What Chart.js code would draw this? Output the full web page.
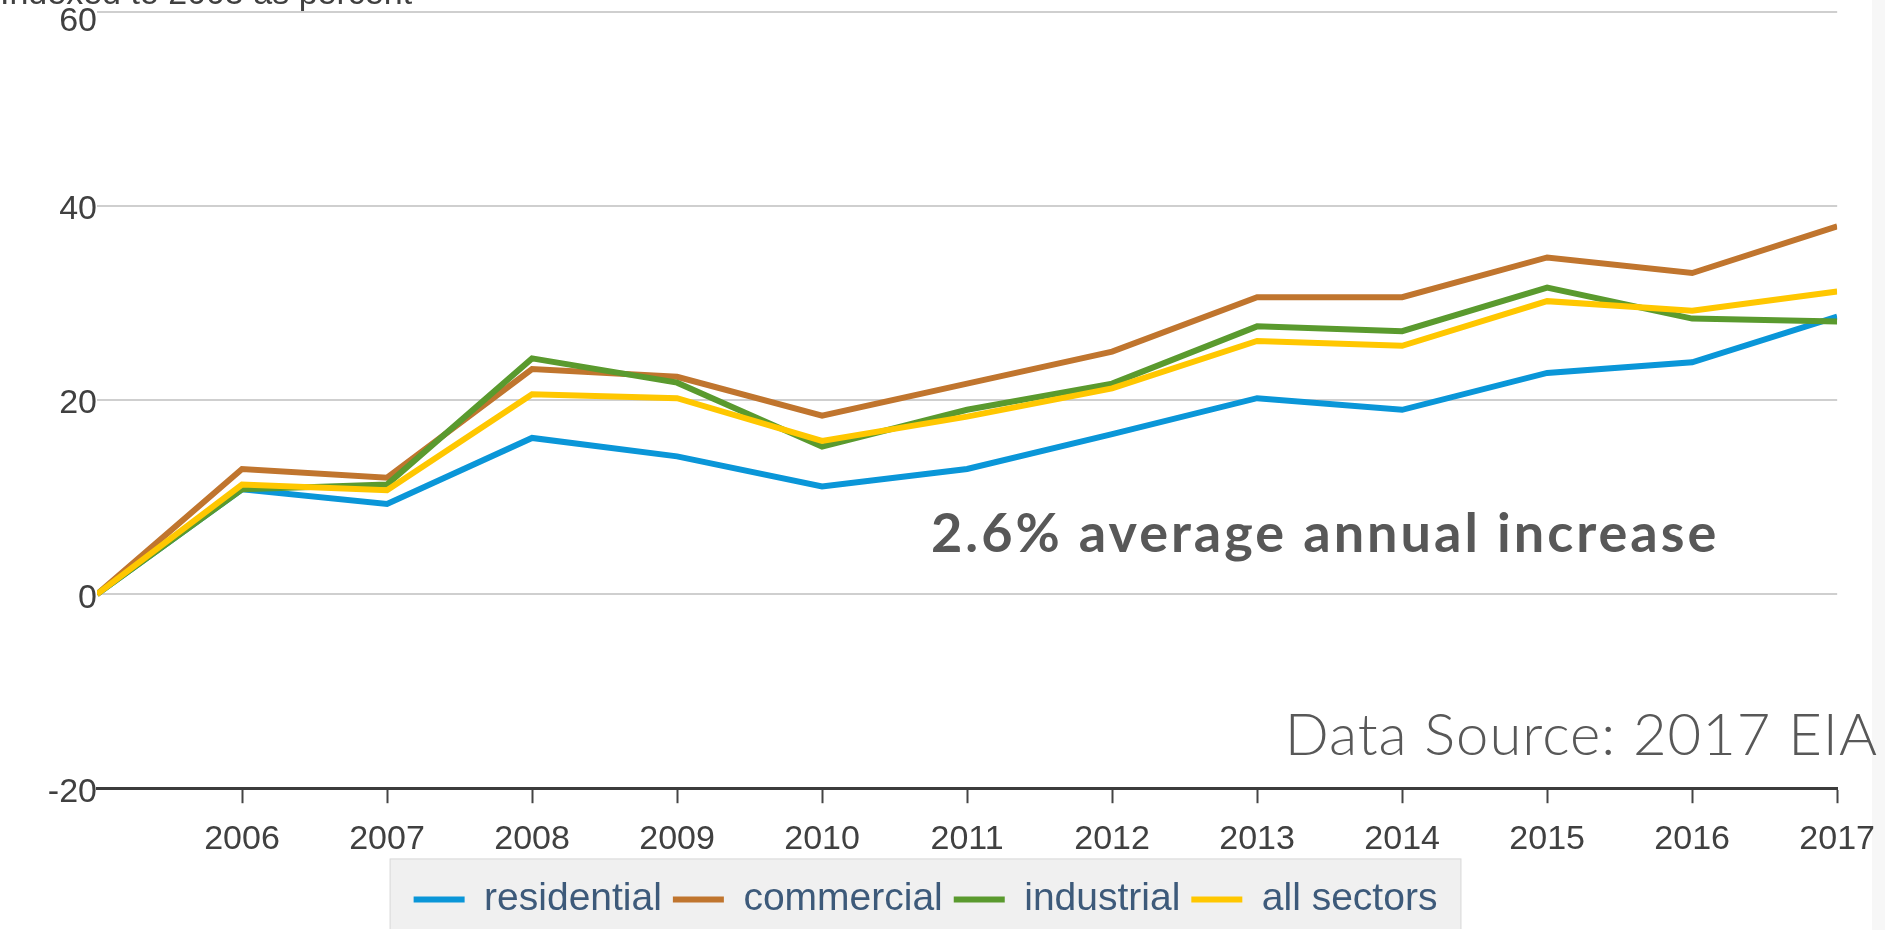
<!DOCTYPE html>
<html>
<head>
<meta charset="utf-8">
<title>Indexed to 2005 as percent</title>
<script src="https://cdn.jsdelivr.net/npm/chart.js@4.4.1/dist/chart.umd.min.js"></script>
<style>
  html, body { margin: 0; padding: 0; background: #fff; width: 1885px; height: 930px; overflow: hidden; }
  #strip { position: absolute; left: 1872px; top: 0; width: 13px; height: 930px; background: #f7f7f7; }
  #wrap { position: absolute; left: 0; top: -22px; width: 1891px; height: 951px; }
  .note { position: absolute; color: #585858; white-space: nowrap; font-family: Lato, "Open Sans", sans-serif; line-height: 1; }
  #avg { left: 931px; top: 505px; font-size: 54px; font-weight: 700; letter-spacing: 3px; }
  #src { right: 7px; top: 704px; font-size: 58px; font-weight: 300; letter-spacing: 1px; }
</style>
</head>
<body>
<div id="strip"></div>
<div id="wrap"><canvas id="c"></canvas></div>
<div class="note" id="avg">2.6% average annual increase</div>
<div class="note" id="src">Data Source: 2017 EIA</div>
<script>
/* Electricity price change by sector, indexed to 2005 (%). */
const YEARS = [2005, 2006, 2007, 2008, 2009, 2010, 2011, 2012, 2013, 2014, 2015, 2016, 2017];
const RESIDENTIAL = [0, 10.8, 9.3, 16.1, 14.2, 11.1, 12.9, 16.5, 20.2, 19.0, 22.8, 23.9, 28.6];
const COMMERCIAL  = [0, 12.9, 12.0, 23.2, 22.4, 18.4, 21.7, 25.0, 30.6, 30.6, 34.7, 33.1, 37.9];
const INDUSTRIAL  = [0, 10.8, 11.3, 24.3, 21.8, 15.2, 19.0, 21.7, 27.6, 27.1, 31.6, 28.4, 28.1];
const ALL_SECTORS = [0, 11.3, 10.7, 20.6, 20.2, 15.8, 18.3, 21.2, 26.1, 25.6, 30.2, 29.2, 31.2];
const SERIES = ["residential", "commercial", "industrial", "all sectors"];
const X_TICKS = [2006, 2007, 2008, 2009, 2010, 2011, 2012, 2013, 2014, 2015, 2016, 2017];
const Y_TICKS = [-20, 0, 20, 40, 60];

const COLORS = ["#0a96d8", "#c0752e", "#5a9a2e", "#ffc700"];
const FONT = '"Liberation Sans", Arial, sans-serif';
const INK = "#404040";
const LEGEND_SHIFT = 20;   // legend sits a little left of the canvas centre

function pts(vals){ return YEARS.map((x, i) => ({ x, y: vals[i] })); }

// residential at the bottom of the stack, all sectors on top
const datasets = [RESIDENTIAL, COMMERCIAL, INDUSTRIAL, ALL_SECTORS].map((v, i) => ({
  label: SERIES[i], data: pts(v),
  borderColor: COLORS[i], backgroundColor: COLORS[i],
  borderWidth: 6, pointRadius: 0, tension: 0, fill: false,
  order: 4 - i
}));

// grey panel behind the legend items, and the small leftward nudge
const legendPanel = {
  id: "legendPanel",
  afterUpdate(chart){
    const lg = chart.legend;
    if (!lg || !lg.legendHitBoxes) return;
    lg.left -= LEGEND_SHIFT; lg.right -= LEGEND_SHIFT;
    lg.legendHitBoxes.forEach(h => { h.left -= LEGEND_SHIFT; });
  },
  beforeDraw(chart){
    const hb = chart.legend && chart.legend.legendHitBoxes;
    if (!hb || !hb.length) return;
    const left = Math.min(...hb.map(h => h.left)) - 24;
    const right = Math.max(...hb.map(h => h.left + h.width)) + 24;
    const top = hb[0].top + hb[0].height / 2 - 41;
    const ctx = chart.ctx;
    ctx.save();
    ctx.fillStyle = "#f0f0f0";
    ctx.fillRect(left, top, right - left, chart.height - top);
    ctx.strokeStyle = "#dadada"; ctx.lineWidth = 1;
    ctx.strokeRect(left + 0.5, top + 0.5, right - left - 1, chart.height - top + 4);
    ctx.restore();
  }
};

// top tick label hangs just under its gridline
function yLabel(v){ return v === Y_TICKS[Y_TICKS.length - 1] ? ["", String(v)] : String(v); }

new Chart(document.getElementById("c"), {
  type: "line",
  data: { datasets },
  plugins: [legendPanel],
  options: {
    responsive: true, maintainAspectRatio: false, animation: false,
    layout: { padding: 0 },
    plugins: {
      title: { display: true, text: "Indexed to 2005 as percent", align: "start", color: INK,
        font: { family: FONT, size: 34, weight: "normal", lineHeight: 1 }, padding: 0 },
      legend: { position: "bottom",
        labels: { color: "#3d5a7a", font: { family: FONT, size: 39 }, boxWidth: 51, boxHeight: 6, padding: 11,
          sort: (a, b) => a.datasetIndex - b.datasetIndex,
          generateLabels: ch => Chart.defaults.plugins.legend.labels.generateLabels(ch)
            .map(l => Object.assign(l, { lineWidth: 0 })) } },
      tooltip: { enabled: false }
    },
    scales: {
      x: { type: "linear", min: 2005, max: 2017,
        afterBuildTicks: s => { s.ticks = X_TICKS.map(v => ({ value: v })); },
        afterFit: s => { s.height -= 7; },
        grid: { drawOnChartArea: false, drawTicks: true, tickLength: 15, tickWidth: 2, tickColor: "#444" },
        border: { display: true, color: "#3c3c3c", width: 3 },
        ticks: { color: INK, font: { family: FONT, size: 34 }, padding: 16, maxRotation: 0, autoSkip: false,
          callback: v => String(v) } },
      y: { min: -20, max: 60,
        afterBuildTicks: s => { s.ticks = Y_TICKS.map(v => ({ value: v })); },
        afterFit: s => { s.width = 97; },
        grid: { color: "#cfcfcf", lineWidth: 2, drawTicks: false },
        border: { display: false },
        ticks: { color: INK, font: { family: FONT, size: 34, lineHeight: "12px" }, padding: 0, labelOffset: 4,
          callback: yLabel } }
    }
  }
});
</script>
</body>
</html>
